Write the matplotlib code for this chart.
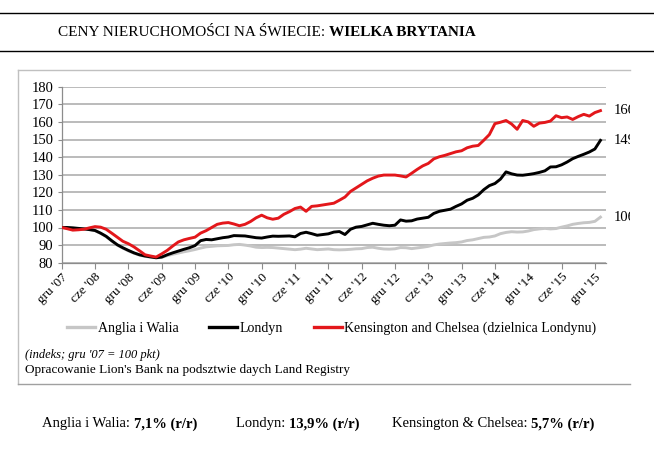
import matplotlib
matplotlib.use('Agg')
import matplotlib.pyplot as plt
from matplotlib.lines import Line2D
from matplotlib.transforms import Bbox, TransformedBbox

# indeks, gru '07 = 100, dane miesieczne od gru '07
anglia = [100, 99.8, 99.6, 99.4, 99.2, 98.8, 98.2, 96.7, 94.8, 92.4,
          90, 88.3, 86.7, 85.4, 84.3, 83.6, 83.1, 82.8, 83, 84,
          84.8, 85.5, 86.2, 86.8, 87.5, 88.3, 89, 89.3, 89.6, 89.7,
          89.8, 90.2, 90.4, 90, 89.5, 88.8, 88.6, 88.7, 88.6, 88.3,
          88, 87.7, 87.4, 87.7, 88.2, 87.8, 87.4, 87.6, 87.8, 87.4,
          87.3, 87.4, 87.6, 87.9, 88, 88.6, 88.8, 88.2, 87.8, 87.7,
          87.9, 88.6, 88.5, 88, 88.4, 88.8, 89.3, 90.1, 90.6, 90.9,
          91.2, 91.4, 91.8, 92.6, 93, 93.7, 94.4, 94.6, 95.2, 96.5,
          97.2, 97.6, 97.4, 97.5, 98, 98.8, 99.2, 99.5, 99.2, 99.4,
          100.2, 100.9, 101.8, 102.3, 102.7, 102.9, 103.5, 105.9]
londyn = [100, 100, 99.8, 99.5, 99.2, 98.8, 98.3, 96.8, 95, 92.5,
          90.2, 88.5, 87, 85.6, 84.5, 83.8, 83.3, 82.8, 83.2, 84.5,
          85.6, 86.6, 87.6, 88.5, 89.7, 92.5, 93.2, 93, 93.6, 94.2,
          94.6, 95.4, 95.3, 95.2, 94.7, 94.2, 94, 94.6, 95.1, 95,
          95.1, 95.2, 94.7, 96.6, 97.3, 96.5, 95.6, 96, 96.4, 97.4,
          97.7, 96, 99, 100.2, 100.6, 101.5, 102.4, 101.8, 101.3, 101,
          101.3, 104.3, 103.6, 103.8, 104.8, 105.3, 105.8, 108, 109.2, 109.8,
          110.4, 112, 113.4, 115.5, 116.6, 118.5, 121.5, 123.8, 125, 127.5,
          131.6, 130.5, 129.8, 129.7, 130.1, 130.6, 131.3, 132.2, 134.4, 134.5,
          135.6, 137.2, 139.1, 140.4, 141.6, 142.9, 144.6, 149.5]
kensington = [100, 99.3, 98.5, 98.7, 99, 99.8, 100.5, 100.2, 99, 96.8,
              94.5, 92.2, 90.8, 89, 86.8, 84.5, 83.8, 83.2, 85, 87,
              89.5, 91.8, 93, 93.8, 94.5, 96.8, 98.2, 100, 101.8, 102.5,
              102.8, 102, 101, 101.8, 103.4, 105.5, 107, 105.5, 104.7, 105.3,
              107.5, 109, 110.8, 111.6, 109.2, 112, 112.3, 112.8, 113.3, 113.8,
              115.5, 117.3, 120.5, 122.5, 124.5, 126.5, 128, 129.2, 129.8, 129.8,
              129.8, 129.3, 128.7, 130.8, 133, 135, 136.4, 139, 140.2, 141,
              142, 143, 143.6, 145.3, 146.2, 146.6, 149.6, 152.8, 159, 159.8,
              160.8, 158.8, 155.8, 160.8, 160, 157.5, 159.3, 159.7, 160.5, 163.5,
              162.4, 162.8, 161.4, 163, 164.3, 163.3, 165.3, 166.4]

tick_labels = ["gru '07", "cze '08", "gru '08", "cze '09", "gru '09", "cze '10",
               "gru '10", "cze '11", "gru '11", "cze '12", "gru '12", "cze '13",
               "gru '13", "cze '14", "gru '14", "cze '15", "gru '15"]
end_labels = ["106", "149", "166"]
serie = ["Anglia i Walia", "Londyn", "Kensington and Chelsea (dzielnica Londynu)"]
kolory = ["#c6c6c6", "#000000", "#e3171b"]

serif = "Liberation Serif"
W, H = 654, 449
fig = plt.figure(figsize=(W / 100, H / 100), dpi=100)

def fx(px):
    return px / W

def fy(py):
    return 1 - py / H

# linie naglowka i ramka (bez prawej krawedzi)
fig.add_artist(Line2D([0, 1], [fy(12.5), fy(12.5)], color='black', lw=1.0))
fig.add_artist(Line2D([0, 1], [fy(51), fy(51)], color='black', lw=1.0))
fig.add_artist(Line2D([fx(18), fx(630)], [fy(70), fy(70)], color='#c0c0c0', lw=1.0))
fig.add_artist(Line2D([fx(18), fx(18)], [fy(70), fy(384)], color='#c0c0c0', lw=1.0))
fig.add_artist(Line2D([fx(18), fx(630)], [fy(384), fy(384)], color='#a0a0a0', lw=1.0))

ax = fig.add_axes([fx(61.7), fy(262.7), fx(606) - fx(61.7), fy(86.7) - fy(262.7)])
x = list(range(len(anglia)))
for vals, c in zip([anglia, londyn, kensington], kolory):
    ax.plot(x, vals, color=c, lw=2.1, solid_joinstyle='round', zorder=3)

ax.set_xlim(0, 98)
ax.set_ylim(80, 180)
ax.set_yticks(range(80, 181, 10))
ax.set_xticks(range(0, 97, 6))
ax.set_xticklabels(tick_labels, rotation=45, ha='right', rotation_mode='anchor',
                   family=serif, fontsize=9.5)
for lab in ax.get_yticklabels():
    lab.set_family(serif)
    lab.set_fontsize(10.5)
ax.grid(axis='y', color='#a8a8a8', lw=1.1)
ax.set_axisbelow(True)
for s in ['top', 'right']:
    ax.spines[s].set_visible(False)
for s in ['left', 'bottom']:
    ax.spines[s].set_color('#8c8c8c')
    ax.spines[s].set_linewidth(0.9)
ax.tick_params(axis='x', length=4, color='#8c8c8c', pad=2)
ax.tick_params(axis='y', length=3, color='#8c8c8c', pad=3)

# etykiety na koncu serii (przyciete na krawedzi ramki)
clip = TransformedBbox(Bbox([[fx(18), fy(384)], [fx(630), fy(70)]]), fig.transFigure)
for vals, lab in zip([anglia, londyn, kensington], end_labels):
    t = ax.text(99.3, vals[-1], lab, ha='left', va='center', family=serif, fontsize=10.5,
                clip_on=True)
    t.set_clip_box(clip)

fig.legend([Line2D([], [], color=c, lw=2.4) for c in kolory], serie,
           loc='center', bbox_to_anchor=(fx(332), fy(328)), ncol=3, frameon=False,
           prop={'family': serif, 'size': 10}, handlelength=2.0, handletextpad=0.2,
           columnspacing=2.2)

fig.text(fx(25), fy(355), "(indeks; gru '07 = 100 pkt)", family=serif, style='italic',
         fontsize=9, va='center')
fig.text(fx(25), fy(370), "Opracowanie Lion's Bank na podsztwie daych Land Registry",
         family=serif, fontsize=9.5, va='center')

renderer = fig.canvas.get_renderer()

def segments(x0, y0, parts, size):
    xpos = fx(x0)
    for txt, bold in parts:
        t = fig.text(xpos, fy(y0), txt, family=serif, fontsize=size, va='center',
                     fontweight='bold' if bold else 'normal')
        bb = t.get_window_extent(renderer)
        xpos += bb.width / W

segments(58, 32.5, [("CENY NIERUCHOMOŚCI NA ŚWIECIE: ", False), ("WIELKA BRYTANIA", True)], 11)
segments(42, 424, [("Anglia i Walia: ", False), ("7,1% (r/r)", True)], 10.5)
segments(236, 424, [("Londyn: ", False), ("13,9% (r/r)", True)], 10.5)
segments(392, 424, [("Kensington & Chelsea: ", False), ("5,7% (r/r)", True)], 10.5)

fig.savefig('out.png', dpi=100)
